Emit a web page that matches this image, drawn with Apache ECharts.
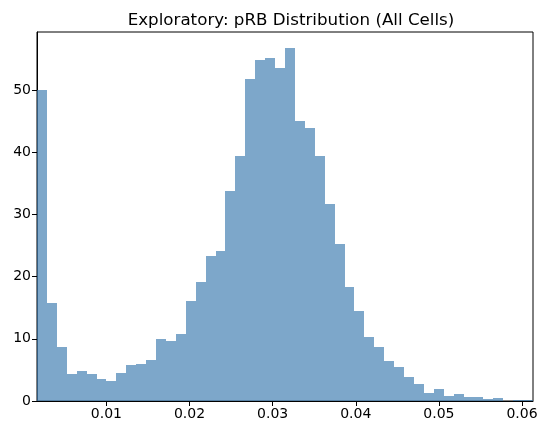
<!DOCTYPE html>
<html>
<head>
	<meta http-equiv="Content-Type" content="text/html;charset=utf-8">
	<title>pRB Distribution</title>
	<style>
		html, body{ margin:0; padding:0; background:#fff; }
		#chart{ width:547px; height:435px; }
	</style>
</head>
<body>
<div id="chart"></div>
<script src="https://cdn.jsdelivr.net/npm/echarts@6/dist/echarts.min.js"></script>
<script>
// histogram: 50 bins
var binStart = 0.001651;
var binWidth = 0.0011934;
var heights = [
	50.0, 15.8, 8.7, 4.35, 4.83, 4.35, 3.54, 3.22, 4.5, 5.8,
	5.96, 6.6, 9.93, 9.6, 10.8, 16.1, 19.16, 23.35, 24.05, 33.8,
	39.45, 51.85, 54.9, 55.07, 53.6, 56.7, 45.1, 43.96, 39.35, 31.6,
	25.3, 18.25, 14.5, 10.36, 8.7, 6.44, 5.47, 3.86, 2.74, 1.29,
	1.93, 0.8, 1.13, 0.64, 0.64, 0.32, 0.48, 0, 0.16, 0.16
];
var xTicks = [0.01, 0.02, 0.03, 0.04, 0.05, 0.06];
var yTicks = [0, 10, 20, 30, 40, 50];

var bins = [];
for (var i = 0; i < heights.length; i++) {
	bins.push([binStart + i * binWidth, binStart + (i + 1) * binWidth, heights[i]]);
}

var myChart = echarts.init(document.getElementById('chart'));
myChart.setOption({
	animation: false,
	textStyle: { fontFamily: 'DejaVu Sans' },
	title: {
		text: 'Exploratory: pRB Distribution (All Cells)',
		left: 286,
		top: 7,
		textAlign: 'center',
		textStyle: { fontFamily: 'DejaVu Sans', fontSize: 16.7, fontWeight: 'normal', color: '#000' }
	},
	grid: {
		left: 37, right: 14, top: 32, bottom: 34,
		show: true, borderColor: '#000', borderWidth: 1, backgroundColor: 'transparent'
	},
	xAxis: {
		type: 'value',
		min: binStart,
		max: binStart + heights.length * binWidth,
		axisLine: { show: true, onZero: false, lineStyle: { color: '#000', width: 1 } },
		axisTick: { show: true, customValues: xTicks, length: 5, lineStyle: { color: '#000' } },
		axisLabel: {
			customValues: xTicks, margin: 6, color: '#000', fontSize: 14,
			formatter: function (v) { return v.toFixed(2); }
		},
		splitLine: { show: false }
	},
	yAxis: {
		type: 'value',
		min: 0,
		max: 59.33,
		axisLine: { show: true, lineStyle: { color: '#000', width: 1 } },
		axisTick: { show: true, customValues: yTicks, length: 5, lineStyle: { color: '#000' } },
		axisLabel: { customValues: yTicks, margin: 6, color: '#000', fontSize: 14 },
		splitLine: { show: false }
	},
	series: [{
		type: 'custom',
		data: bins,
		clip: true,
		renderItem: function (params, api) {
			var p0 = api.coord([api.value(0), 0]);
			var p1 = api.coord([api.value(1), api.value(2)]);
			// snap to whole pixels so neighbouring bars meet without seams
			var xa = Math.round(p0[0]), xb = Math.round(p1[0]);
			var yb = Math.round(p0[1]), ya = Math.round(p1[1]);
			return {
				type: 'rect',
				shape: { x: xa, y: ya, width: xb - xa, height: yb - ya },
				style: { fill: 'rgba(70,130,180,0.7)' }
			};
		}
	}]
});
</script>
</body>
</html>
